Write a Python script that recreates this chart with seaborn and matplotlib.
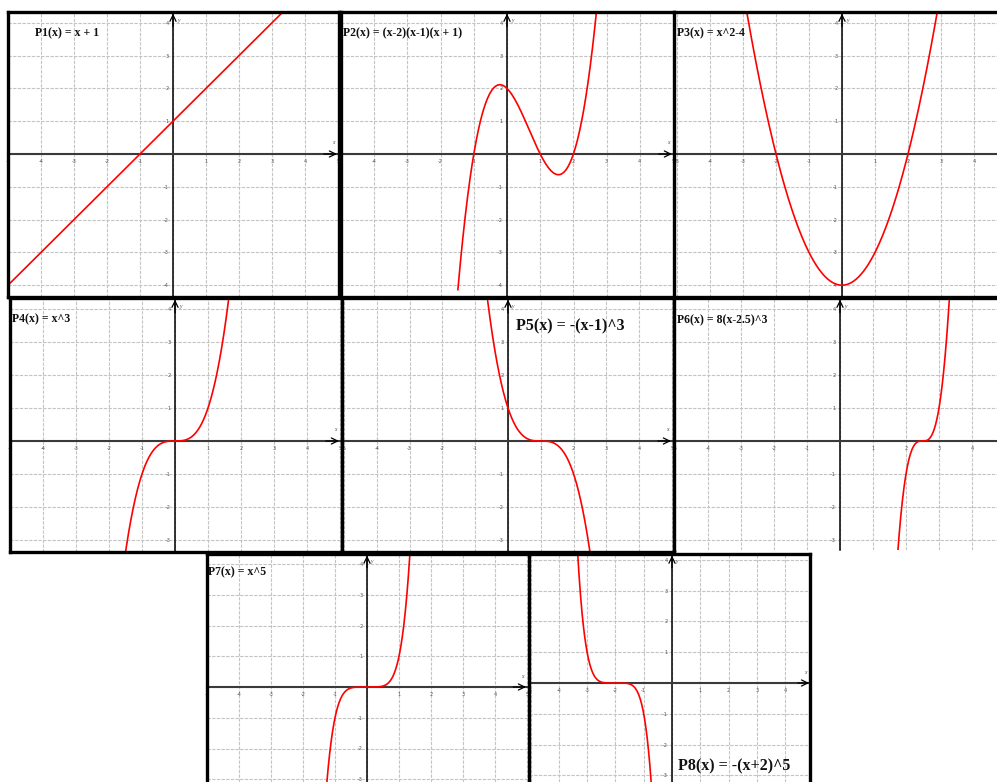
import numpy as np
import matplotlib
matplotlib.use("Agg")
import matplotlib.pyplot as plt
from matplotlib.lines import Line2D
from matplotlib.ticker import FixedLocator, FuncFormatter
import seaborn as sns

# Polynomials P1..P8 (coefficients, highest power first) and their labels
titles = ["P1(x) = x + 1", "P2(x) = (x-2)(x-1)(x + 1)", "P3(x) = x^2-4",
          "P4(x) = x^3", "P5(x) = -(x-1)^3", "P6(x) = 8(x-2.5)^3",
          "P7(x) = x^5", "P8(x) = -(x+2)^5"]
p1_coef = [1, 1]
p2_coef = [1, -2, -1, 2]
p3_coef = [1, 0, -4]
p4_coef = [1, 0, 0, 0]
p5_coef = [-1, 3, -3, 1]
p6_coef = [8, -60, 150, -125]
p7_coef = [1, 0, 0, 0, 0, 0]
p8_coef = [-1, -10, -40, -80, -80, -32]
coefs = [p1_coef, p2_coef, p3_coef, p4_coef, p5_coef, p6_coef, p7_coef, p8_coef]

# x-interval over which each curve is traced
x_spans = [(-5.0, 3.4), (-1.48, 2.69), (-2.88, 2.88), (-1.55, 1.62),
           (-0.62, 2.55), (1.74, 3.31), (-1.30, 1.34), (-3.34, -0.70)]

W, H = 997, 782

# panel boxes in pixels: left, top, right, bottom
boxes = [(8, 12, 339, 297), (341, 12, 674, 297), (674, 12, 997, 297),
         (10, 298, 342, 552), (342, 298, 674, 552), (674, 298, 997, 550),
         (207, 554, 530, 782), (529, 554, 810, 782)]
# origin pixel and pixels per unit (x, y)
origins = [(173, 154), (507, 154), (842, 154), (175, 441), (508, 441),
           (840, 441), (367, 687), (672, 683)]
units = [(33, 32.8), (33.2, 32.8), (33, 32.8), (33, 33), (32.8, 33),
         (33, 33), (32, 30.75), (28.3, 30.8)]
# frame edges drawn: left, right, top, bottom
edges = [(1, 1, 1, 1), (1, 0, 1, 1), (1, 0, 1, 1), (1, 1, 1, 1),
         (1, 1, 1, 1), (1, 0, 1, 0), (1, 1, 1, 0), (1, 1, 1, 0)]
# title anchor (left x, centre y) in pixels and size
title_pos = [(35, 33), (343, 33), (677, 33), (12, 319), (516, 326),
             (677, 320), (208, 572), (678, 766)]
title_size = [8.5, 8.5, 8.5, 8.5, 11.5, 8.5, 8.5, 11.5]

sns.set_style("white")
plt.rcParams["font.family"] = ["DejaVu Sans"]

fig = plt.figure(figsize=(W / 100, H / 100), dpi=100)


def int_label(v, _pos):
    v = int(round(v))
    return "" if v == 0 else str(v)


for i in range(8):
    l, t, r, b = boxes[i]
    x0, y0 = origins[i]
    ux, uy = units[i]
    ax = fig.add_axes([l / W, 1 - b / H, (r - l) / W, (b - t) / H])
    xlim = ((l - x0) / ux, (r - x0) / ux)
    ylim = ((y0 - b) / uy, (y0 - t) / uy)

    xs = np.linspace(x_spans[i][0], x_spans[i][1], 400)
    ys = np.polyval(coefs[i], xs)
    sns.lineplot(x=xs, y=ys, ax=ax, color="#ff0000", linewidth=1.2,
                 sort=False, estimator=None, zorder=4)

    ax.set_xlim(*xlim)
    ax.set_ylim(*ylim)
    xt = [k for k in range(-6, 7) if xlim[0] - 0.05 <= k <= xlim[1] + 0.05]
    yt = [k for k in range(-6, 7) if ylim[0] - 0.05 <= k <= ylim[1] + 0.05]
    ax.xaxis.set_major_locator(FixedLocator(xt))
    ax.yaxis.set_major_locator(FixedLocator(yt))
    ax.xaxis.set_major_formatter(FuncFormatter(int_label))
    ax.yaxis.set_major_formatter(FuncFormatter(int_label))
    ax.grid(True, color="#c4c4c4", linestyle=(0, (3, 1.2)), linewidth=0.8, zorder=0)
    ax.set_axisbelow(True)

    # coordinate axes through the origin
    ax.spines["left"].set_position(("data", 0))
    ax.spines["bottom"].set_position(("data", 0))
    ax.spines["left"].set_color("black")
    ax.spines["left"].set_linewidth(1.1)
    ax.spines["bottom"].set_color("#3a3a3a")
    ax.spines["bottom"].set_linewidth(1.5)
    ax.spines["top"].set_visible(False)
    ax.spines["right"].set_visible(False)
    ax.tick_params(axis="both", direction="inout", length=4.5, width=1.0,
                   labelsize=3.5, labelcolor="#555555", pad=1.0, color="black")
    ax.set_xlabel("")
    ax.set_ylabel("")

    # arrow heads and axis names
    arrow = dict(arrowstyle="->,head_length=0.45,head_width=0.22", lw=0.9,
                 color="black", shrinkA=0, shrinkB=0)
    ytop = ylim[1] - 0.05
    ax.annotate("", xy=(0, ytop), xytext=(0, ytop - 0.4), arrowprops=arrow,
                annotation_clip=False, zorder=6)
    ax.text(0.12, ytop - 0.2, "y", fontsize=4, color="#444444",
            family="Liberation Serif", style="italic", va="center")
    if xlim[1] > 4.8:
        xr = min(5.0, xlim[1]) - 0.03
        ax.annotate("", xy=(xr, 0), xytext=(xr - 0.4, 0), arrowprops=arrow,
                    annotation_clip=False, zorder=6)
        ax.text(xr - 0.12, 0.3, "x", fontsize=4, color="#444444",
                family="Liberation Serif", style="italic", ha="center")

    # panel frame
    L, R, T, B = edges[i]
    lw = 2.4
    segs = []
    if L:
        segs.append(([0, 0], [0, 1]))
    if R:
        segs.append(([1, 1], [0, 1]))
    if T:
        segs.append(([0, 1], [1, 1]))
    if B:
        segs.append(([0, 1], [0, 0]))
    for sx, sy in segs:
        ax.add_line(Line2D(sx, sy, transform=ax.transAxes, color="black",
                           linewidth=lw, clip_on=False, zorder=10,
                           solid_capstyle="projecting"))

    tx, ty = title_pos[i]
    fig.text(tx / W, 1 - ty / H, titles[i], fontsize=title_size[i],
             family="Liberation Serif", weight="bold", ha="left", va="center",
             color="#111111", zorder=20)

fig.savefig("out.png", dpi=100)
